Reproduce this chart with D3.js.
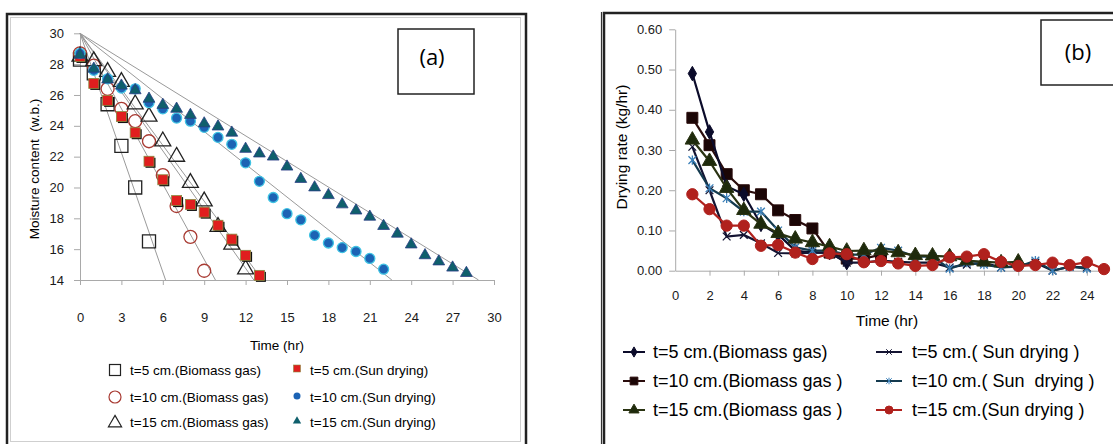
<!DOCTYPE html>
<meta charset="utf-8">
<style>
    body { margin: 0; background: #fff; }
    svg { display: block; font-family: "Liberation Sans", Arial, sans-serif; }
    .axis path, .axis line { stroke: #a9a9a9; }
    .axis text { fill: #1a1a1a; }
    .leg text { white-space: pre; }
</style>

<body>
    <script src="https://d3js.org/d3.v7.min.js"></script>
    <script>
        // ---------- panel (a) : moisture content (w.b.) vs time, x = 0,1,2,...
        var a5bio = [28.3, 27.4, 25.4, 22.7, 20.0, 16.5];
        var a10bio = [28.7, 27.9, 26.4, 25.1, 24.3, 23.0, 20.8, 18.8, 16.8, 14.6];
        var a15bio = [28.5, 28.2, 27.5, 26.85, 25.4, 24.6, 23.0, 22.0, 20.3, 19.1, 17.45, 16.3, 14.7];
        var a5sun = [28.5, 26.75, 25.65, 24.6, 23.55, 21.7, 20.5, 19.15, 18.9, 18.4, 17.55, 16.65, 15.6, 14.3];
        var a10sun = [28.7, 27.6, 27.05, 26.45, 26.4, 25.5, 25.1, 24.5, 24.3, 23.9, 23.25, 22.8, 21.6,
            20.4, 19.35, 18.3, 17.9, 16.9, 16.4, 16.1, 15.85, 15.4, 14.7];
        var a15sun = [28.6, 27.7, 27.0, 26.6, 26.3, 25.75, 25.35, 25.1, 24.7, 24.15, 23.95, 23.55, 22.5,
            22.2, 22.0, 21.35, 20.55, 20.0, 19.5, 18.9, 18.5, 18.1, 17.5, 17.0, 16.3, 15.6, 15.2, 14.8, 14.45];
        // linear trend lines (intercept, slope)
        var aTrend = [[30, -2.58], [30, -1.63], [30, -1.27], [30, -1.21], [30, -0.708], [30, -0.554]];
        var aNames = ["t=5 cm.(Biomass gas)", "t=10 cm.(Biomass gas)", "t=15 cm.(Biomass gas)",
            "t=5 cm.(Sun drying)", "t=10 cm.(Sun drying)", "t=15 cm.(Sun drying)"];
        var aYTicks = [14, 16, 18, 20, 22, 24, 26, 28, 30];
        var aXTicks = [0, 3, 6, 9, 12, 15, 18, 21, 24, 27, 30];

        // ---------- panel (b) : drying rate (kg/hr) vs time, x = 1,2,3,...
        var b5bio = [0.49, 0.345, 0.21, 0.19, 0.115, 0.09, 0.05, 0.045, 0.045, 0.02];
        var b10bio = [0.38, 0.312, 0.24, 0.2, 0.19, 0.15, 0.126, 0.105, 0.045, 0.03, 0.03, 0.04];
        var b15bio = [0.325, 0.272, 0.205, 0.15, 0.116, 0.093, 0.079, 0.07, 0.06, 0.049, 0.05, 0.05,
            0.045, 0.038, 0.037, 0.035, 0.025, 0.022, 0.02, 0.022];
        var b5sun = [0.308, 0.2, 0.085, 0.089, 0.068, 0.044, 0.043, 0.045, 0.045, 0.02, 0.02, 0.025,
            0.022, 0.02, 0.02, 0.008, 0.015, 0.02, 0.008, 0.012, 0.02, 0.0, 0.01, 0.008];
        var b10sun = [0.275, 0.205, 0.18, 0.147, 0.147, 0.1, 0.058, 0.05, 0.05, 0.04, 0.04, 0.057,
            0.05, 0.035, 0.035, 0.005, 0.02, 0.015, 0.008, 0.01, 0.025, 0.0, 0.01, 0.005];
        var b15sun = [0.19, 0.153, 0.112, 0.112, 0.062, 0.064, 0.045, 0.029, 0.043, 0.041, 0.021, 0.024,
            0.018, 0.012, 0.014, 0.033, 0.035, 0.041, 0.022, 0.012, 0.014, 0.02, 0.014, 0.021, 0.004];
        var bNames = ["t=5 cm.(Biomass gas)", "t=10 cm.(Biomass gas )", "t=15 cm.(Biomass gas )",
            "t=5 cm.( Sun drying )", "t=10 cm.( Sun  drying )", "t=15 cm.(Sun drying )"];
        var bYTicks = [0, 0.1, 0.2, 0.3, 0.4, 0.5, 0.6];
        var bXTicks = [0, 2, 4, 6, 8, 10, 12, 14, 16, 18, 20, 22, 24];

        var svg = d3.select("body").append("svg")
            .attr("width", 1113)
            .attr("height", 444);

        var symX = {
            draw: function(ctx, size) {
                var r = Math.sqrt(size) / 2;
                ctx.moveTo(-r, -r); ctx.lineTo(r, r);
                ctx.moveTo(-r, r); ctx.lineTo(r, -r);
            }
        };
        var symStar = {
            draw: function(ctx, size) {
                var r = Math.sqrt(size) / 2;
                ctx.moveTo(-r, -r); ctx.lineTo(r, r);
                ctx.moveTo(-r, r); ctx.lineTo(r, -r);
                ctx.moveTo(0, -r * 1.2); ctx.lineTo(0, r * 1.2);
            }
        };

        // ================= panel (a) =================
        var ga = svg.append("g");
        ga.append("rect").attr("x", 7).attr("y", 14).attr("width", 519).attr("height", 445)
            .attr("fill", "none").attr("stroke", "#222").attr("stroke-width", 2.5);
        ga.append("rect").attr("x", 10.5).attr("y", 17.5).attr("width", 510).attr("height", 424)
            .attr("fill", "none").attr("stroke", "#cfcfcf").attr("stroke-width", 1);

        var xa = d3.scaleLinear().domain([0, 30]).range([80, 494]),
            ya = d3.scaleLinear().domain([14, 30]).range([280, 33.3]);

        ga.append("g").attr("class", "axis")
            .attr("transform", "translate(80,0)")
            .call(d3.axisLeft(ya).tickValues(aYTicks).tickSize(6).tickSizeOuter(0).tickPadding(10))
            .call(function(g) { g.selectAll("text").style("font-size", "13px"); });
        ga.append("g").attr("class", "axis")
            .attr("transform", "translate(0,280)")
            .call(d3.axisBottom(xa).tickValues(aXTicks).tickSize(5).tickSizeOuter(0).tickPadding(28))
            .call(function(g) { g.selectAll("text").style("font-size", "13px"); });

        ga.append("text").attr("transform", "translate(39,169) rotate(-90)")
            .attr("text-anchor", "middle").style("font-size", "13.5px").style("white-space", "pre")
            .text("Moisture content  (w.b.)");
        ga.append("text").attr("x", 277).attr("y", 350)
            .attr("text-anchor", "middle").style("font-size", "13.5px").text("Time (hr)");

        // trend lines, clipped at the bottom of the axis
        var trendG = ga.append("g");
        aTrend.forEach(function(t) {
            var xEnd = (14 - t[0]) / t[1];
            trendG.append("line")
                .attr("x1", xa(0)).attr("y1", ya(t[0]))
                .attr("x2", xa(xEnd)).attr("y2", ya(14))
                .attr("stroke", "#9a9a9a").attr("stroke-width", 1);
        });

        function pts(arr, x0) {
            return arr.map(function(v, i) { return { x: i + x0, y: v }; });
        }

        // open symbols (biomass gas)
        ga.selectAll(".sq").data(pts(a5bio, 0)).enter().append("path")
            .attr("d", d3.symbol(d3.symbolSquare, 170))
            .attr("transform", function(d) { return "translate(" + xa(d.x) + "," + ya(d.y) + ")"; })
            .attr("fill", "none").attr("stroke", "#222").attr("stroke-width", 1.3);
        ga.selectAll(".ci").data(pts(a10bio, 0)).enter().append("circle")
            .attr("cx", function(d) { return xa(d.x); }).attr("cy", function(d) { return ya(d.y); })
            .attr("r", 6.5).attr("fill", "none").attr("stroke", "#a83a32").attr("stroke-width", 1.3);
        ga.selectAll(".tr").data(pts(a15bio, 0)).enter().append("path")
            .attr("d", d3.symbol(d3.symbolTriangle, 110))
            .attr("transform", function(d) { return "translate(" + xa(d.x) + "," + ya(d.y) + ")"; })
            .attr("fill", "none").attr("stroke", "#222").attr("stroke-width", 1.3);

        // sun drying: red squares with dark shadow
        var red = ga.selectAll(".rs").data(pts(a5sun, 0)).enter().append("g")
            .attr("transform", function(d) { return "translate(" + xa(d.x) + "," + ya(d.y) + ")"; });
        red.append("rect").attr("x", -3.5).attr("y", -3.5).attr("width", 10).attr("height", 10).attr("fill", "#111");
        red.append("rect").attr("x", -5).attr("y", -5).attr("width", 10).attr("height", 10)
            .attr("fill", "#e01e1e").attr("stroke", "#8a8a40").attr("stroke-width", 0.8);

        ga.selectAll(".bc").data(pts(a10sun, 0)).enter().append("circle")
            .attr("cx", function(d) { return xa(d.x); }).attr("cy", function(d) { return ya(d.y); })
            .attr("r", 5).attr("fill", "#1c63b4").attr("stroke", "#3fc3e3").attr("stroke-width", 1.3);
        ga.selectAll(".tt").data(pts(a15sun, 0)).enter().append("path")
            .attr("d", d3.symbol(d3.symbolTriangle, 60))
            .attr("transform", function(d) { return "translate(" + xa(d.x) + "," + ya(d.y) + ")"; })
            .attr("fill", "#0f5f6c").attr("stroke", "#2b3e85").attr("stroke-width", 0.8);

        // (a) label box
        ga.append("rect").attr("x", 398).attr("y", 29).attr("width", 76).attr("height", 65)
            .attr("fill", "#fff").attr("stroke", "#222").attr("stroke-width", 1.5);
        ga.append("text").attr("x", 432).attr("y", 65).attr("text-anchor", "middle")
            .style("font-family", "'Open Sans', sans-serif").style("font-size", "22px").text("(a)");

        // legend (a)
        var legA = ga.append("g").attr("class", "leg").style("font-size", "13.5px");
        var aRows = [370, 397, 422];
        aNames.forEach(function(n, i) {
            var col = i < 3 ? 0 : 1, row = i % 3;
            var mx = col ? 297 : 115, tx = col ? 310 : 130, y = aRows[row];
            legA.append("text").attr("x", tx).attr("y", y).attr("dy", "0.35em").text(n);
            if (i == 0) legA.append("rect").attr("x", mx - 5.5).attr("y", y - 5.5).attr("width", 11).attr("height", 11)
                .attr("fill", "none").attr("stroke", "#222").attr("stroke-width", 1.2);
            if (i == 1) legA.append("circle").attr("cx", mx).attr("cy", y).attr("r", 6)
                .attr("fill", "none").attr("stroke", "#a83a32").attr("stroke-width", 1.2);
            if (i == 2) legA.append("path").attr("d", d3.symbol(d3.symbolTriangle, 75))
                .attr("transform", "translate(" + mx + "," + (y + 1) + ")")
                .attr("fill", "none").attr("stroke", "#222").attr("stroke-width", 1.2);
            if (i == 3) legA.append("rect").attr("x", mx - 3.5).attr("y", y - 5).attr("width", 7).attr("height", 7)
                .attr("fill", "#e01e1e").attr("stroke", "#8a8a40").attr("stroke-width", 0.6);
            if (i == 4) legA.append("circle").attr("cx", mx).attr("cy", y - 1).attr("r", 3.5)
                .attr("fill", "#1c63b4");
            if (i == 5) legA.append("path").attr("d", d3.symbol(d3.symbolTriangle, 30))
                .attr("transform", "translate(" + mx + "," + (y - 1) + ")").attr("fill", "#0f5f6c");
        });

        // ================= panel (b) =================
        var gb = svg.append("g");
        gb.append("rect").attr("x", 604).attr("y", 13).attr("width", 600).attr("height", 500)
            .attr("fill", "none").attr("stroke", "#222").attr("stroke-width", 2.5);
        gb.append("line").attr("x1", 601.5).attr("x2", 601.5).attr("y1", 12).attr("y2", 444)
            .attr("stroke", "#333").attr("stroke-width", 1.2);

        var xb = d3.scaleLinear().domain([0, 25]).range([675.2, 1104]),
            yb = d3.scaleLinear().domain([0, 0.6]).range([270.7, 29.3]);

        gb.append("g").attr("class", "axis")
            .attr("transform", "translate(675.2,0)")
            .call(d3.axisLeft(yb).tickValues(bYTicks).tickFormat(d3.format(".2f"))
                .tickSize(6).tickSizeOuter(0).tickPadding(7))
            .call(function(g) { g.selectAll("text").style("font-size", "13px"); });
        gb.append("g").attr("class", "axis")
            .attr("transform", "translate(0,270.7)")
            .call(d3.axisBottom(xb).tickValues(bXTicks).tickSize(5).tickSizeOuter(0).tickPadding(15))
            .call(function(g) {
                g.selectAll("text").style("font-size", "13px");
                g.selectAll(".tick").filter(function(d) { return d == 0; }).select("line").remove();
            });

        gb.append("text").attr("transform", "translate(627,147) rotate(-90)")
            .attr("text-anchor", "middle").style("font-size", "15.5px").text("Drying rate (kg/hr)");
        gb.append("text").attr("x", 887).attr("y", 326)
            .attr("text-anchor", "middle").style("font-size", "15.5px").text("Time (hr)");

        var bSeries = [b5bio, b10bio, b15bio, b5sun, b10sun, b15sun];
        var bLine = ["#0b0b2a", "#2a0c0c", "#2a3312", "#141432", "#143a4e", "#b0211d"];
        var bFill = ["#0b0b2a", "#1b0606", "#1e2a0c", "#141432", "#3a7fb8", "#b0211d"];
        var bSym = [d3.symbolDiamond, d3.symbolSquare, d3.symbolTriangle, symX, symStar, d3.symbolCircle];
        var bSize = [60, 120, 90, 60, 60, 100];
        var bOpen = [false, false, false, true, true, false];
        var line = d3.line()
            .x(function(d) { return xb(d.x); })
            .y(function(d) { return yb(d.y); });

        // draw in the reference stacking order: red on top
        [1, 0, 3, 4, 2, 5].forEach(function(k) {
            var data = pts(bSeries[k], 1);
            gb.append("path").datum(data).attr("d", line)
                .attr("fill", "none").attr("stroke", bLine[k]).attr("stroke-width", 2.2);
            gb.selectAll(".m" + k).data(data).enter().append("path")
                .attr("d", d3.symbol(bSym[k], bSize[k]))
                .attr("transform", function(d) { return "translate(" + xb(d.x) + "," + yb(d.y) + ")"; })
                .attr("fill", bOpen[k] ? "none" : bFill[k])
                .attr("stroke", bOpen[k] ? bFill[k] : bLine[k])
                .attr("stroke-width", bOpen[k] ? 1.3 : 1);
        });

        // (b) label box
        gb.append("rect").attr("x", 1041).attr("y", 20).attr("width", 90).attr("height", 65)
            .attr("fill", "#fff").attr("stroke", "#222").attr("stroke-width", 1.5);
        gb.append("text").attr("x", 1078).attr("y", 60).attr("text-anchor", "middle")
            .style("font-family", "'Open Sans', sans-serif").style("font-size", "22px").text("(b)");

        // legend (b)
        var legB = gb.append("g").attr("class", "leg").style("font-size", "18px");
        var bRows = [352, 381, 410];
        bNames.forEach(function(n, i) {
            var col = i < 3 ? 0 : 1, row = i % 3;
            var x1 = col ? 876 : 623, x2 = col ? 902 : 645, tx = col ? 912 : 653, y = bRows[row];
            legB.append("line").attr("x1", x1).attr("x2", x2).attr("y1", y).attr("y2", y)
                .attr("stroke", bLine[i]).attr("stroke-width", 2);
            legB.append("path").attr("d", d3.symbol(bSym[i], bSize[i] * 0.5))
                .attr("transform", "translate(" + ((x1 + x2) / 2) + "," + y + ")")
                .attr("fill", bOpen[i] ? "none" : bFill[i])
                .attr("stroke", bOpen[i] ? bFill[i] : bLine[i]).attr("stroke-width", 1);
            legB.append("text").attr("x", tx).attr("y", y).attr("dy", "0.35em").text(n);
        });
    </script>
</body>
